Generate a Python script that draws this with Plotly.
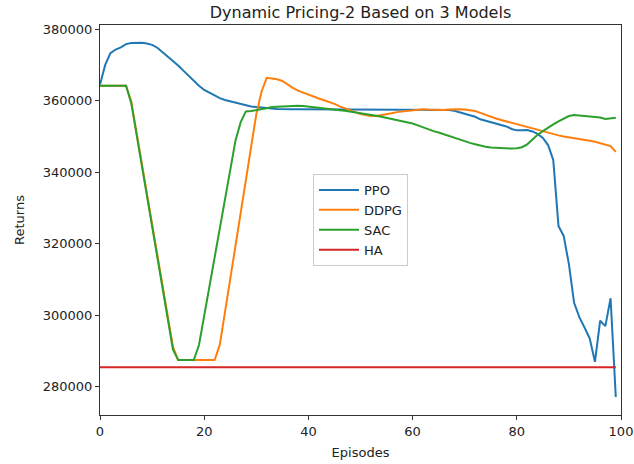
import plotly.graph_objects as go

episodes = list(range(100))

ppo = [364500, 370000, 373300, 374300, 374900, 375800, 376100, 376200, 376200, 376000,
       375600, 374800, 373600, 372400, 371200, 369800, 368400, 367000, 365500, 364200,
       363000, 362200, 361400, 360700, 360200, 359800, 359400, 359000, 358700, 358400,
       358200, 358000, 357900, 357800, 357700, 357600, 357600, 357600, 357600, 357600,
       357600, 357600, 357600, 357600, 357600, 357600, 357600, 357600, 357600, 357600,
       357600, 357600, 357600, 357600, 357600, 357600, 357600, 357600, 357600, 357600,
       357600, 357600, 357600, 357600, 357600, 357600, 357500, 357400, 357200, 356800,
       356300, 356000, 355500, 354800, 354400, 354000, 353700, 353400, 352800, 352100,
       351700, 351700, 351800, 351400, 350700, 349600, 347600, 343400, 325000, 322200,
       314300, 303500, 299500, 296600, 293500, 287000, 298500, 297000, 304800, 277200]

ddpg = [364200, 364200, 364200, 364200, 364200, 364200, 359800, 351400, 342800, 334200,
        325600, 317000, 308400, 299800, 291200, 287500, 287500, 287500, 287500, 287500,
        287500, 287500, 287500, 291800, 301000, 310200, 319400, 328600, 337800, 347000,
        356200, 362500, 366400, 366200, 366000, 365500, 364500, 363600, 362800, 362200,
        361600, 361100, 360600, 360100, 359700, 359100, 358400, 357800, 357300, 356800,
        356300, 355900, 355700, 355700, 355900, 356200, 356500, 356800, 357000, 357200,
        357400, 357600, 357600, 357500, 357400, 357400, 357400, 357500, 357600, 357600,
        357500, 357300, 357100, 356600, 356000, 355400, 355000, 354600, 354200, 353700,
        353300, 352900, 352600, 352200, 351800, 351400, 351000, 350600, 350300, 350000,
        349800, 349500, 349300, 349000, 348800, 348500, 348100, 347700, 347300, 345700]

sac = [364200, 364200, 364200, 364200, 364200, 364200, 359300, 350700, 342100, 333500,
       324900, 316300, 307700, 299100, 290500, 287500, 287500, 287500, 287500, 291700,
       299800, 307800, 315900, 323900, 332000, 340500, 348800, 354000, 357000, 357100,
       357300, 357600, 357900, 358200, 358300, 358400, 358500, 358600, 358600, 358500,
       358300, 358200, 358000, 357800, 357600, 357400, 357300, 357200, 357000, 356800,
       356600, 356300, 356000, 355800, 355500, 355200, 354900, 354600, 354300, 354000,
       353600, 353100, 352500, 351900, 351500, 351100, 350600, 350000, 349500, 349000,
       348600, 348200, 347800, 347400, 347100, 346900, 346800, 346700, 346600, 346600,
       346700, 347000, 347800, 349200, 350500, 351500, 352500, 353400, 354200, 355000,
       355700, 356000, 355900, 355800, 355600, 355500, 355300, 354900, 355000, 355200]

ha = [285500] * 100

series = [("PPO", ppo, "#1f77b4"), ("DDPG", ddpg, "#ff7f0e"),
          ("SAC", sac, "#2ca02c"), ("HA", ha, "#d62728")]

x_ticks = [0, 20, 40, 60, 80, 100]
y_ticks = [280000, 300000, 320000, 340000, 360000, 380000]
y_tick_labels = [str(v) for v in y_ticks]

fig = go.Figure()
for name, vals, color in series:
    fig.add_trace(go.Scatter(x=episodes, y=vals, mode="lines", name=name,
                             line=dict(color=color, width=2)))

axis_common = dict(showline=True, linecolor="#333333", linewidth=1, mirror=True,
                   ticks="outside", ticklen=4, tickcolor="#333333", showgrid=False,
                   zeroline=False, automargin=False,
                   tickfont=dict(size=13, color="#222222"))

fig.update_layout(
    width=634, height=464,
    margin=dict(l=100, r=13, t=25, b=49),
    paper_bgcolor="white", plot_bgcolor="white",
    font=dict(family="DejaVu Sans", size=13, color="#222222"),
    title=dict(text="Dynamic Pricing-2 Based on 3 Models", x=0.5, xref="paper",
               y=1 - 12 / 464, yref="container", yanchor="middle",
               font=dict(size=16)),
    xaxis=dict(range=[0, 100], tickvals=x_ticks,
               title=dict(text="Episodes", standoff=10, font=dict(size=13)), **axis_common),
    yaxis=dict(range=[272150, 381150], tickvals=y_ticks, ticktext=y_tick_labels,
               title=dict(text="Returns", standoff=15, font=dict(size=13)), **axis_common),
    legend=dict(x=0.5, y=0.5, xanchor="center", yanchor="middle",
                bordercolor="#cccccc", borderwidth=1, bgcolor="rgba(255,255,255,0.8)",
                font=dict(size=13), itemwidth=40, tracegroupgap=2),
    showlegend=True,
)

fig.write_html("out.html", config={"displayModeBar": False},
               post_script="document.body.style.margin='0px';document.body.style.padding='0px';")
